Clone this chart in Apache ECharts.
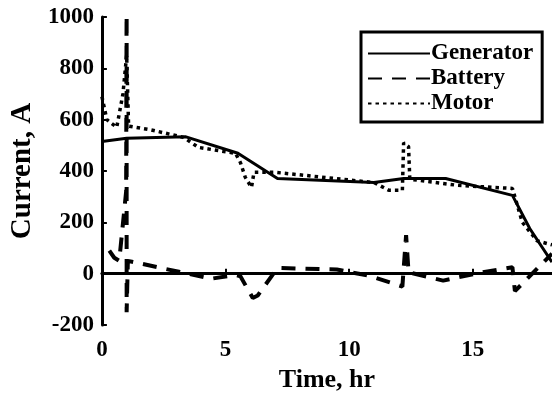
<!DOCTYPE html>
<html>
<head>
<meta charset="utf-8">
<script src="https://cdn.jsdelivr.net/npm/echarts@6/dist/echarts.min.js"></script>
<style>
html,body{margin:0;padding:0;background:#fff;}
#chart{width:552px;height:398px;}
</style>
</head>
<body>
<div id="chart"></div>
<script>
// ---- data ----
var genT = [0, 1.0, 3.4, 5.5, 7.1, 11.0, 12.2, 13.9, 16.6, 17.3, 18.2];
var genI = [515, 528, 533, 469, 371, 355, 371, 371, 305, 176, 45];

var batT = [0.3, 0.5, 0.7, 0.98, 1.0, 1.0, 1.05, 2.5, 3.4, 4.4, 5.4, 5.6, 6.1, 6.3, 7.1, 9.5, 10.8, 12.15, 12.3, 12.4, 13.8, 15.2, 16.6, 16.7, 18.2];
var batI = [90, 62, 50, 320, 1100, -150, 50, 20, 2, -20, -5, -10, -95, -85, 22, 16, -8, -50, 150, 5, -27, 2, 25, -68, 78];

var motT = [0, 0.2, 0.6, 0.85, 1.0, 1.08, 2.0, 3.3, 3.9, 5.4, 5.6, 5.8, 6.05, 6.15, 7.0, 11.0, 11.6, 12.15, 12.2, 12.4, 12.45, 14.4, 16.6, 17.0, 17.6, 18.2];
var motI = [690, 600, 570, 700, 850, 575, 560, 531, 492, 469, 433, 375, 336, 395, 395, 355, 325, 325, 510, 495, 368, 344, 332, 200, 128, 112];

var seriesNames = ['Generator', 'Battery', 'Motor'];
var xTicks = [0, 5, 10, 15];
var yTicks = [-200, 0, 200, 400, 600, 800, 1000];

function pairs(t, v) { return t.map(function (x, i) { return [x, v[i]]; }); }

var font = 'Liberation Serif';
var chart = echarts.init(document.getElementById('chart'), null, {renderer: 'canvas'});
chart.setOption({
  animation: false,
  backgroundColor: '#fff',
  color: ['#000', '#000', '#000'],
  grid: {left: 100, right: 0, top: 17, bottom: 73, containLabel: false},
  xAxis: {
    type: 'value', min: 0, max: 18.2, interval: 5,
    name: 'Time, hr', nameLocation: 'middle', nameGap: 42,
    nameTextStyle: {fontFamily: font, fontWeight: 'bold', fontSize: 26, color: '#000'},
    axisLine: {show: true, lineStyle: {color: '#000', width: 3}},
    axisTick: {show: true, inside: true, length: 5, lineStyle: {color: '#000', width: 2}},
    axisLabel: {fontFamily: font, fontWeight: 'bold', fontSize: 23, color: '#000', margin: 14, showMaxLabel: false,
      formatter: function (v) { return xTicks.indexOf(v) >= 0 ? String(v) : ''; }},
    splitLine: {show: false}
  },
  yAxis: {
    type: 'value', min: -200, max: 1000, interval: 200,
    name: 'Current, A', nameLocation: 'middle', nameGap: 52,
    nameTextStyle: {fontFamily: font, fontWeight: 'bold', fontSize: 29, color: '#000'},
    axisLine: {show: true, lineStyle: {color: '#000', width: 3}},
    axisTick: {show: true, inside: true, length: 5, lineStyle: {color: '#000', width: 2}},
    axisLabel: {fontFamily: font, fontWeight: 'bold', fontSize: 23, color: '#000', margin: 8,
      formatter: function (v) { return yTicks.indexOf(v) >= 0 ? String(v) : ''; }},
    splitLine: {show: false}
  },
  legend: {
    orient: 'vertical', left: 361, top: 32,
    padding: [10, 9, 7, 6],
    borderColor: '#000', borderWidth: 3, backgroundColor: '#fff',
    itemWidth: 62, itemHeight: 12, itemGap: 2,
    itemStyle: {opacity: 0},
    textStyle: {fontFamily: font, fontWeight: 'bold', fontSize: 23, lineHeight: 20, color: '#000', padding: [0, 0, 0, -4]},
    data: seriesNames
  },
  series: [
    {name: seriesNames[0], type: 'line', data: pairs(genT, genI), symbol: 'none', clip: true,
      itemStyle: {color: '#000'},
      lineStyle: {color: '#000', width: 3, type: 'solid'}},
    {name: seriesNames[1], type: 'line', data: pairs(batT, batI), symbol: 'none', clip: true,
      itemStyle: {color: '#000'},
      lineStyle: {color: '#000', width: 4, type: [14, 10]}},
    {name: seriesNames[2], type: 'line', data: pairs(motT, motI), symbol: 'none', clip: true,
      itemStyle: {color: '#000'},
      lineStyle: {color: '#000', width: 3.5, type: [3.5, 4]}}
  ]
});
</script>
</body>
</html>
